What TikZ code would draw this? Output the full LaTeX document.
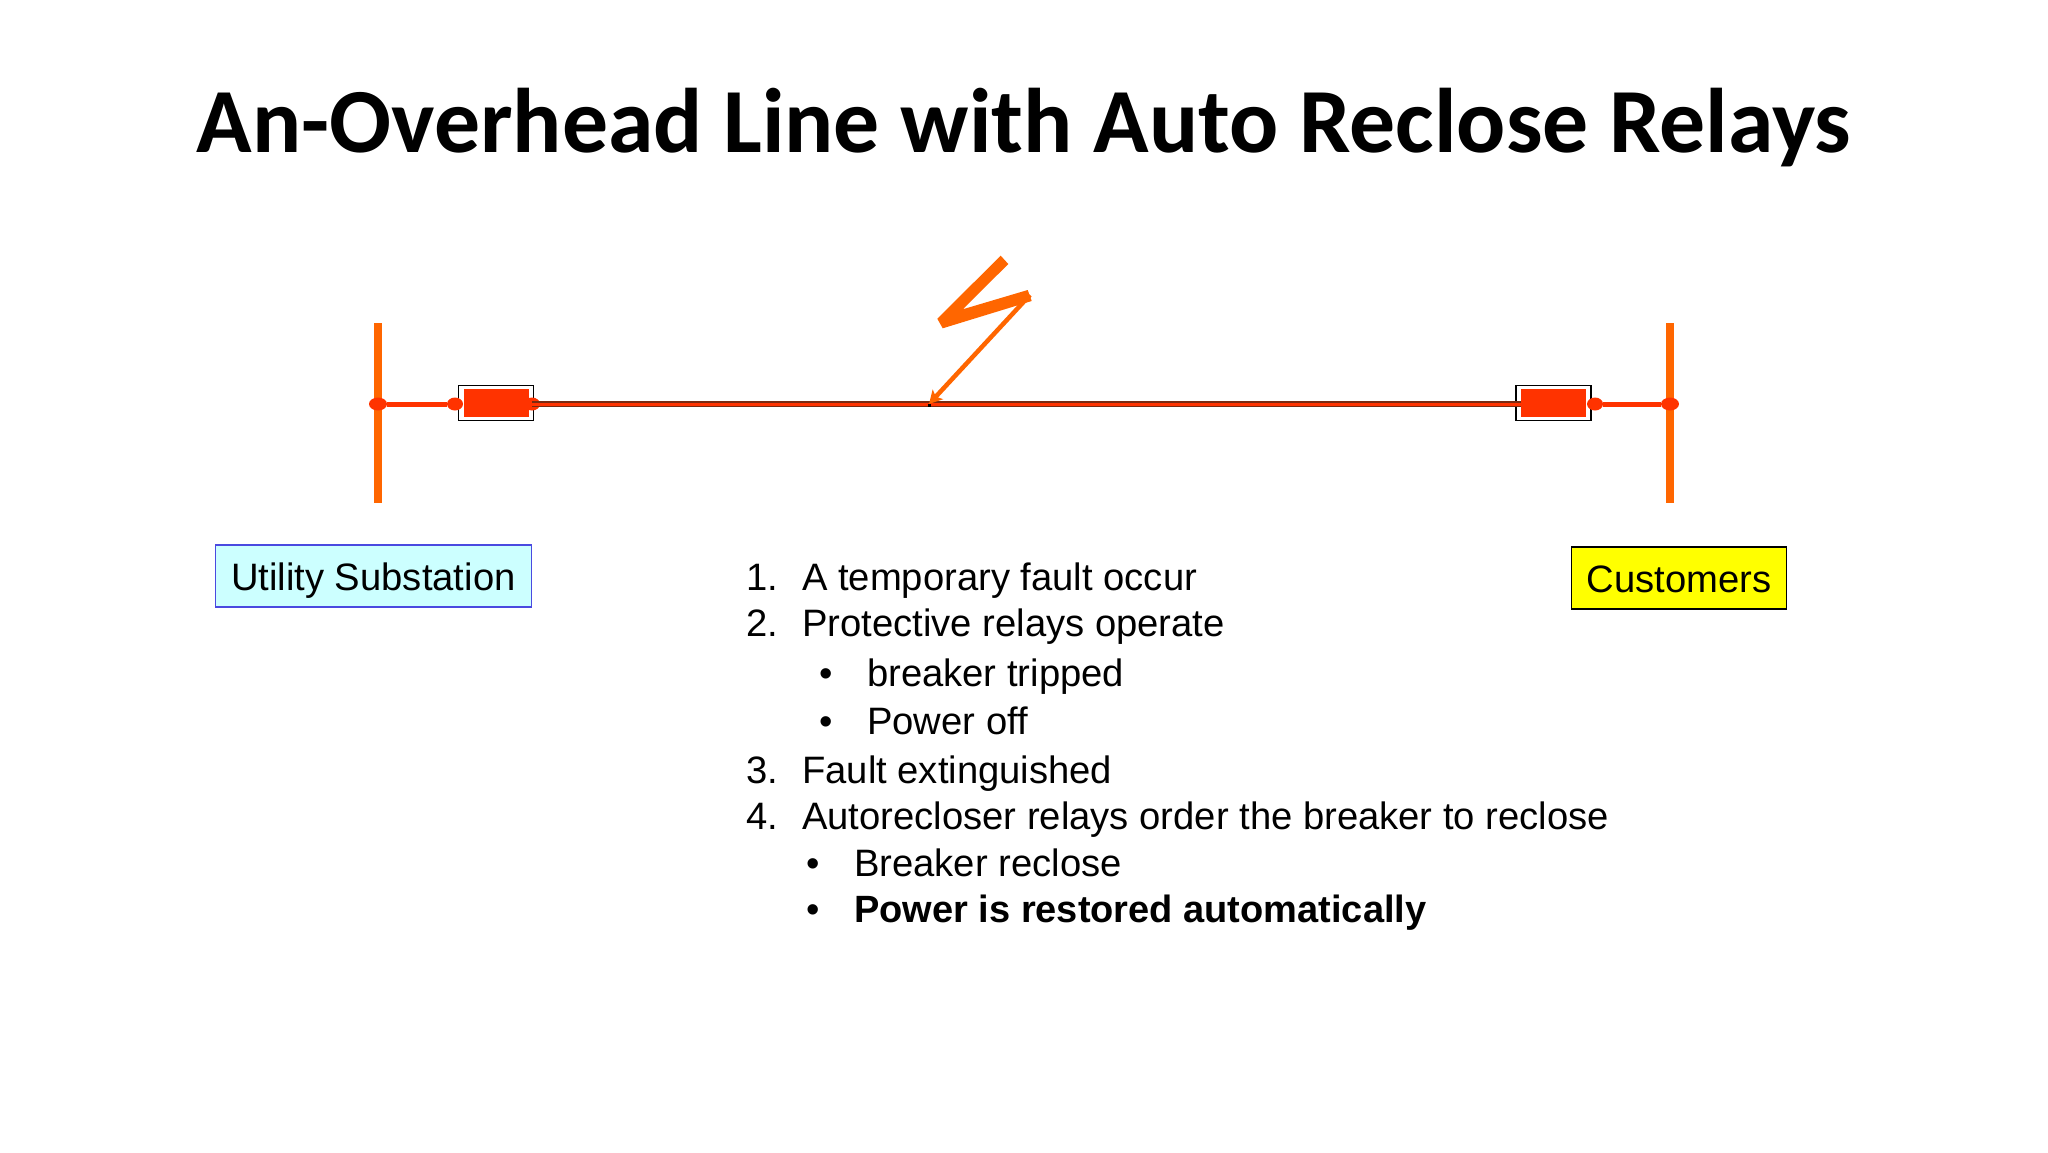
\documentclass[tikz,border=0pt]{standalone}
\usetikzlibrary{arrows.meta,shapes.geometric}
\usepackage{fontspec}
\setmainfont{Liberation Sans}
\newfontfamily\titlefont{Carlito}
\definecolor{busor}{HTML}{FF6600}
\definecolor{redor}{HTML}{FF3300}
\definecolor{darkline}{HTML}{7A2A10}
\definecolor{subfill}{HTML}{CCFFFF}
\definecolor{subedge}{HTML}{4A4AE0}
\definecolor{custfill}{HTML}{FFFF00}
\tikzset{
  x=1pt,y=-1pt,
  busbar/.style={draw=busor,line width=8pt},
  feeder/.style={draw=redor,line width=5pt},
  dotmark/.style={ellipse,fill=redor,inner sep=0pt,minimum width=16pt,minimum height=13pt},
  ovalmark/.style={ellipse,fill=redor,inner sep=0pt,minimum width=18pt,minimum height=13pt},
  breakerbox/.style={draw=black,line width=1.5pt,fill=white,minimum width=75pt,minimum height=35pt,inner sep=0pt},
  breakerfill/.style={fill=redor,minimum width=65pt,minimum height=28pt,inner sep=0pt},
  labelbox/.style={line width=1.5pt,inner sep=0pt,font=\fontsize{38.2}{40}\selectfont},
  listtext/.style={anchor=base west,inner sep=0pt,font=\fontsize{38.2}{40}\selectfont},
}
\begin{document}
\begin{tikzpicture}
\useasboundingbox (0,0) rectangle (2048,1152);
\fill[white] (0,0) rectangle (2048,1152);
\node[anchor=center,inner sep=0pt,font=\titlefont\bfseries\fontsize{91.7}{96}\selectfont] (title) at (1024,128) {An-Overhead Line with Auto Reclose Relays};
% busbars
\coordinate (lbt) at (377.7,323); \coordinate (lbb) at (377.7,503);
\coordinate (rbt) at (1670.3,323); \coordinate (rbb) at (1670.3,503);
\draw[busbar] (lbt) -- (lbb);
\draw[busbar] (rbt) -- (rbb);
% junctions
\node[ovalmark] (lj) at (378,404) {};
\node[ovalmark] (rj) at (1670,404) {};
% breakers
\node[breakerbox] (lbox) at (496.2,403.2) {};
\node[breakerbox] (rbox) at (1553.5,403.2) {};
\node[breakerfill] (lfill) at (496.5,403) {};
\node[breakerfill] (rfill) at (1553.5,403) {};
\node[dotmark] (lb1) at (455,404) {};
\node[dotmark] (rb1) at (1595,404) {};
\node[dotmark] (lb3) at (532,404) {};
\draw[feeder] (lj) -- (lb1);
\draw[feeder] (rj) -- (rb1);
% line
\coordinate (le) at (532,404);
\coordinate (re) at (1521,404);
\draw[draw=darkline,line width=6.5pt] (le) -- (re);
\draw[draw=redor,line width=3pt] (le) -- (re);
\fill[black] (928,403.5) rectangle (930.5,406.5);
% bolt
\coordinate (b3) at (1030,295);
\coordinate (hit) at (929,404);
\fill[busor] (1000.7,255.7) -- (1008.3,264) -- (962.7,309.3) -- (1027.7,290) -- (1031.7,301) -- (942.7,328.3) -- (937.3,318.7) -- cycle;
\draw[draw=busor,line width=4.5pt,-{Stealth[inset=3pt,length=13pt,width=14pt]}] (b3) -- (hit);
% labels
\node[labelbox,draw=subedge,fill=subfill,minimum width=316pt,minimum height=62pt,text height=40pt,text depth=12pt] (sub) at (373.3,576) {Utility Substation};
\node[labelbox,draw=black,fill=custfill,minimum width=215pt,minimum height=62pt,text height=40pt,text depth=10.6pt] (cust) at (1679,578) {Customers};
% list
\foreach \n/\t/\y in {1./A temporary fault occur/590,2./Protective relays operate/636,3./Fault extinguished/783,4./Autorecloser relays order the breaker to reclose/829}{
  \node[listtext] at (746,\y) {\n};
  \node[listtext] at (802,\y) {\t};
}
\foreach \t/\y/\xa/\xb in {breaker tripped/686/819/867,Power off/734/819/867,Breaker reclose/876/806/854}{
  \node[listtext] at (\xa,\y) {•};
  \node[listtext] at (\xb,\y) {\t};
}
\node[listtext] at (806,922) {•};
\node[listtext,font=\bfseries\fontsize{38}{40}\selectfont] at (854,922) {Power is restored automatically};
\end{tikzpicture}
\end{document}
